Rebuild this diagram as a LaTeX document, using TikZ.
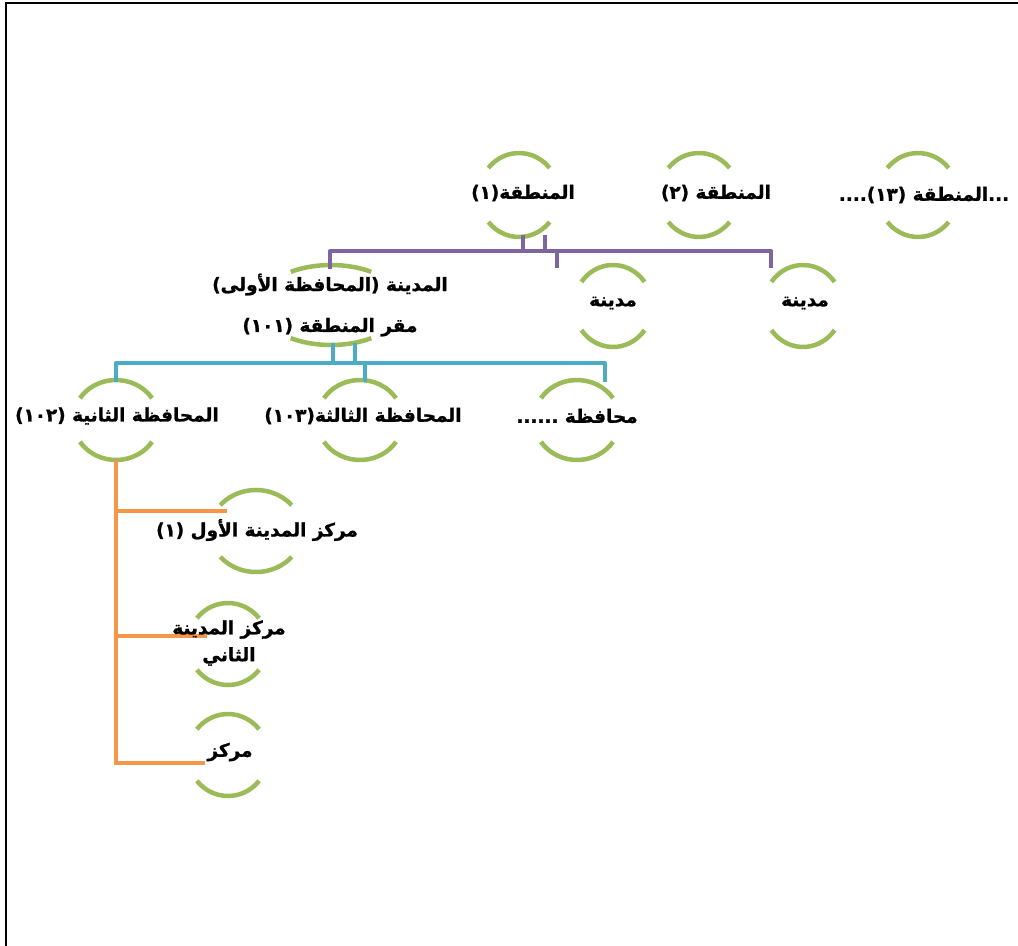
\documentclass[tikz,border=0pt]{standalone}
\usepackage{fontspec}
\usetikzlibrary{calc,shapes.geometric}
\newfontfamily\arabicfont[Script=Arabic, BoldFeatures={FakeBold=1.2}]{DejaVu Sans}
\TeXXeTstate=1
\definecolor{ringgreen}{HTML}{9BBB59}
\definecolor{linepurple}{HTML}{8064A2}
\definecolor{lineblue}{HTML}{4BACC6}
\definecolor{lineorange}{HTML}{F79646}
\tikzset{
  ring/.style={draw=ringgreen, line width=4.5bp},
  oval/.style={ellipse, draw=none, inner sep=0pt},
  lbl/.style={font=\arabicfont\bfseries\fontsize{18.5}{27}\selectfont, inner sep=0pt, align=center},
  pur/.style={draw=linepurple, line width=4bp},
  blu/.style={draw=lineblue, line width=4bp},
  org/.style={draw=lineorange, line width=4bp},
}
\newcommand\rings[4]{%
  \draw[ring] (#1.center) ++(#4:#2bp and #3bp) arc[start angle=#4, end angle={180-#4}, x radius=#2bp, y radius=#3bp];
  \draw[ring] (#1.center) ++({180+#4}:#2bp and #3bp) arc[start angle={180+#4}, end angle={360-#4}, x radius=#2bp, y radius=#3bp];}
\begin{document}
\begin{tikzpicture}[x=1bp,y=1bp]
\useasboundingbox (0,0) rectangle (1018,-946);
\fill[white] (0,0) rectangle (1018,-946);
\draw[black, line width=2bp] (6,-946) -- (6,-3) -- (1018,-3);

% ovals (centres)
\node[oval, minimum width=80bp, minimum height=84bp] (r1) at (519,-195) {};
\node[oval, minimum width=80bp, minimum height=84bp] (r2) at (699,-195) {};
\node[oval, minimum width=80bp, minimum height=84bp] (r3) at (918,-195) {};
\node[oval, minimum width=144bp, minimum height=80bp] (c1) at (331,-305) {};
\node[oval, minimum width=78bp, minimum height=82bp] (c2) at (613,-306) {};
\node[oval, minimum width=78bp, minimum height=82bp] (c3) at (803,-306) {};
\node[oval, minimum width=86bp, minimum height=80bp] (d1) at (116,-420) {};
\node[oval, minimum width=86bp, minimum height=80bp] (d2) at (360,-420) {};
\node[oval, minimum width=86bp, minimum height=80bp] (d3) at (577,-420) {};
\node[oval, minimum width=92bp, minimum height=82bp] (e1) at (256,-531) {};
\node[oval, minimum width=80bp, minimum height=82bp] (e2) at (228,-644) {};
\node[oval, minimum width=80bp, minimum height=82bp] (e3) at (228,-755) {};

\rings{r1}{40}{42}{40}
\rings{r2}{40}{42}{40}
\rings{r3}{40}{42}{40}
\rings{c1}{72}{40}{56}
\rings{c2}{39}{41}{36}
\rings{c3}{39}{41}{36}
\rings{d1}{43}{40}{33}
\rings{d2}{43}{40}{33}
\rings{d3}{43}{40}{33}
\rings{e1}{46}{41}{39}
\rings{e2}{40}{41}{39}
\rings{e3}{40}{41}{39}

% connectors: purple
\coordinate (pbar) at (0,-251);
\coordinate (pa) at ($(r1.south)+(4,2)$);
\coordinate (pb) at ($(r1.south)+(26,2)$);
\coordinate (pc1) at ($(c1.north)+(-1,-4)$);
\coordinate (pc2) at ($(c2.north)+(-56,-3)$);
\coordinate (pc3) at ($(c3.north)+(-32,-3)$);
\draw[pur] (pa) -- (pa |- pbar);
\draw[pur] (pb) -- (pb |- pbar);
\draw[pur, line join=round] (pc1) -- (pc1 |- pbar) -- (pc3 |- pbar) -- (pc3);
\draw[pur] (pc2 |- pbar) -- (pc2);

% connectors: blue
\coordinate (bbar) at (0,-363);
\coordinate (ba) at ($(c1.south)+(2,2)$);
\coordinate (bb) at ($(c1.south)+(24,2)$);
\coordinate (bd1) at ($(d1.north)+(0,-2)$);
\coordinate (bd2) at ($(d2.north)+(5,-2)$);
\coordinate (bd3) at ($(d3.north)+(28,-2)$);
\draw[blu] (ba) -- (ba |- bbar);
\draw[blu] (bb) -- (bb |- bbar);
\draw[blu, line join=round] (bd1) -- (bd1 |- bbar) -- (bd3 |- bbar) -- (bd3);
\draw[blu] (bd2 |- bbar) -- (bd2);

% connectors: orange
\coordinate (o1) at ($(e1.center)+(-29,20)$);
\coordinate (o2) at ($(e2.center)+(-21,8)$);
\coordinate (o3) at ($(e3.center)+(-23,-8)$);
\draw[org] (d1.south) -- (d1.south |- o3) -- (o3);
\draw[org] (d1.south |- o1) -- (o1);
\draw[org] (d1.south |- o2) -- (o2);

% labels
\node[lbl] (t1) at ($(r1.center)+(4,2)$) {\beginR المنطقة(١)\endR};
\node[lbl] (t2) at ($(r2.center)+(17,2)$) {\beginR المنطقة (٢)\endR};
\node[lbl] (t3) at ($(r3.center)+(6,0)$) {\beginR ...المنطقة (١٣)....\endR};
\node[lbl] (u1) at ($(c1.center)+(-1,0)$) {\beginR المدينة (المحافظة الأولى)\endR\\[14bp]\beginR مقر المنطقة (١٠١)\endR};
\node[lbl] (u2) at ($(c2.center)+(0,3)$) {\beginR مدينة\endR};
\node[lbl] (u3) at ($(c3.center)+(2,3)$) {\beginR مدينة\endR};
\node[lbl] (v1) at ($(d1.center)+(1,4)$) {\beginR المحافظة الثانية (١٠٢)\endR};
\node[lbl] (v2) at ($(d2.center)+(3,4)$) {\beginR المحافظة الثالثة(١٠٣)\endR};
\node[lbl] (v3) at ($(d3.center)+(0,4)$) {\beginR محافظة ......\endR};
\node[lbl] (w1) at ($(e1.center)+(1,1)$) {\beginR مركز المدينة الأول (١)\endR};
\node[lbl] (w2) at ($(e2.center)+(1,1)$) {\beginR مركز المدينة\endR\\\beginR الثاني\endR};
\node[lbl] (w3) at ($(e3.center)+(2,3)$) {\beginR مركز\endR};
\end{tikzpicture}
\end{document}
